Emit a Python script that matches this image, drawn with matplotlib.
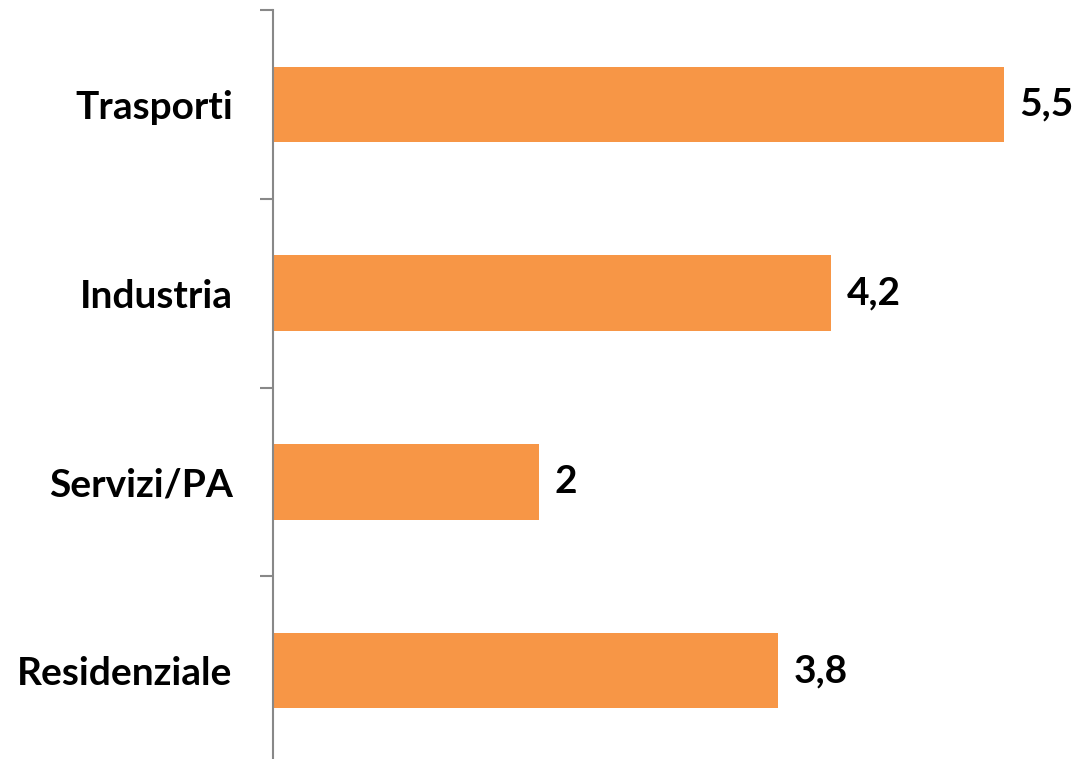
import matplotlib.pyplot as plt
import numpy as np

# dati
settori = ['Trasporti', 'Industria', 'Servizi/PA', 'Residenziale']
valori = [5.5, 4.2, 2, 3.8]
etichette = [f"{v:g}".replace('.', ',') for v in valori]

plt.rcParams['font.family'] = ['Lato', 'DejaVu Sans']

fig = plt.figure(figsize=(10.77, 7.59), dpi=100)
ax = fig.add_axes([273 / 1077, -6 / 759, 804 / 1077, 755 / 759])

y = np.arange(len(settori))
barre = ax.barh(y, valori, height=0.4, color='#F79646')

ax.set_xlim(0, 6.05)
ax.set_ylim(len(settori) - 0.5, -0.5)

# etichette dei valori
ax.bar_label(barre, labels=etichette, padding=11, fontsize=28, fontweight='bold')

# tick tra le categorie, etichette al centro
ax.set_yticks(np.arange(len(settori) + 1) - 0.5)
ax.set_yticklabels([])
ax.set_yticks(y, minor=True)
ax.set_yticklabels(settori, minor=True, fontsize=28, fontweight='bold')
ax.tick_params(axis='y', which='major', length=9.5, width=1.5, color='#888888')
ax.tick_params(axis='y', which='minor', length=0, pad=29)

for lato in ['top', 'right', 'bottom']:
    ax.spines[lato].set_visible(False)
ax.spines['left'].set_color('#888888')
ax.spines['left'].set_linewidth(1.5)
ax.set_xticks([])

fig.savefig('out.png', dpi=100)
